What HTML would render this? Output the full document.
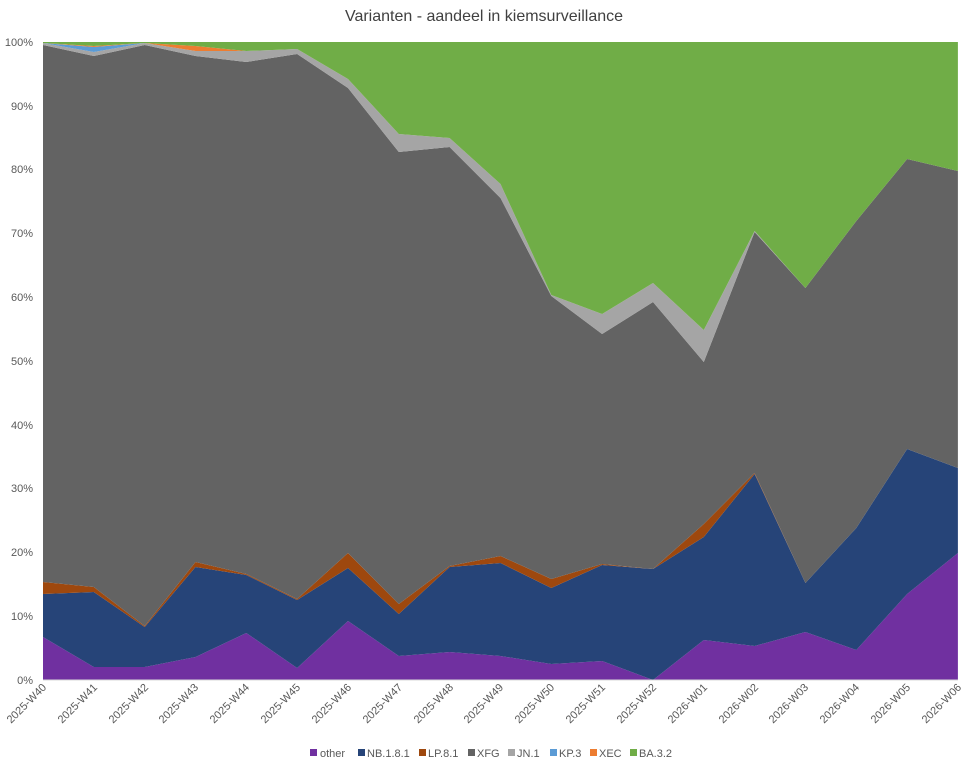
<!DOCTYPE html>
<html><head><meta charset="utf-8"><style>
body{margin:0;background:#fff;font-family:"Liberation Sans",sans-serif}
svg text{font-family:"Liberation Sans",sans-serif;fill:#595959}
</style></head><body>
<svg id="s" width="968" height="765" xmlns="http://www.w3.org/2000/svg">
<rect width="968" height="765" fill="#fff"/>
<text x="484" y="21" font-size="16" text-anchor="middle" style="fill:#404040">Varianten - aandeel in kiemsurveillance</text>
<g id="areas"></g>
<line x1="43" y1="680" x2="958" y2="680" stroke="#d9d9d9"/>
<g font-size="11" text-anchor="end">
<text x="33" y="684">0%</text><text x="33" y="620">10%</text><text x="33" y="556">20%</text><text x="33" y="492">30%</text><text x="33" y="429">40%</text><text x="33" y="365">50%</text><text x="33" y="301">60%</text><text x="33" y="237">70%</text><text x="33" y="173">80%</text><text x="33" y="110">90%</text><text x="33" y="46">100%</text>
</g>
<g id="xl" font-size="11" text-anchor="end"></g>
<g font-size="11">
<rect x="310" y="749" width="7" height="7" fill="#7030a0"/><text x="320" y="757">other</text>
<rect x="358" y="749" width="7" height="7" fill="#264478"/><text x="367" y="757">NB.1.8.1</text>
<rect x="419" y="749" width="7" height="7" fill="#9e480e"/><text x="428" y="757">LP.8.1</text>
<rect x="468" y="749" width="7" height="7" fill="#636363"/><text x="477" y="757">XFG</text>
<rect x="508" y="749" width="7" height="7" fill="#a5a5a5"/><text x="517" y="757">JN.1</text>
<rect x="550" y="749" width="7" height="7" fill="#5b9bd5"/><text x="559" y="757">KP.3</text>
<rect x="590" y="749" width="7" height="7" fill="#ed7d31"/><text x="599" y="757">XEC</text>
<rect x="630" y="749" width="7" height="7" fill="#70ad47"/><text x="639" y="757">BA.3.2</text>
</g>
</svg>
<script>
var X=[];for(var i=0;i<19;i++)X.push(43+i*50.83);
var B=[
[680,680,680,680,680,680,680,680,680,680,680,680,680,680,680,680,680,680,680],
[637,667,667,657,633,668,621,656,652,656,664,661,680,640,646,632,650,594,553],
[594,592,627,567,575,600,568,614,567,563,588,565,569,537,474,583,528,449,468],
[582,587,626,562,574,599,553,604,566,556,579,564,569,524,473,583,528,449,468],
[45,56,45,56,62,54,88,152,147,198,296,334,302,362,232,288,221,159,171],
[43,52,43,51,51,49,79,134,138,184,295,314,283,330,231,288,221,159,171],
[43,47,43,51,51,49,79,134,138,184,295,314,283,330,231,288,221,159,171],
[43,46,43,46,51,49,79,134,138,184,295,314,283,330,231,288,221,159,171],
[42,42,42,42,42,42,42,42,42,42,42,42,42,42,42,42,42,42,42]];
var C=["#7030a0","#264478","#9e480e","#636363","#a5a5a5","#5b9bd5","#ed7d31","#70ad47"];
var g=document.getElementById('areas'),h='';
for(var k=0;k<8;k++){var p=[];for(var i=0;i<19;i++)p.push(X[i].toFixed(1)+','+B[k+1][i]);for(var i=18;i>=0;i--)p.push(X[i].toFixed(1)+','+B[k][i]);h+='<polygon fill="'+C[k]+'" points="'+p.join(' ')+'"/>';}
g.innerHTML=h;
</script>
<svg style="position:absolute;left:0;top:0" width="968" height="765" xmlns="http://www.w3.org/2000/svg">
<g font-size="11" text-anchor="end" fill="#595959" font-family="Liberation Sans, sans-serif">
<text transform="translate(47,688) rotate(-45)">2025-W40</text>
<text transform="translate(98,688) rotate(-45)">2025-W41</text>
<text transform="translate(149,688) rotate(-45)">2025-W42</text>
<text transform="translate(199,688) rotate(-45)">2025-W43</text>
<text transform="translate(250,688) rotate(-45)">2025-W44</text>
<text transform="translate(301,688) rotate(-45)">2025-W45</text>
<text transform="translate(352,688) rotate(-45)">2025-W46</text>
<text transform="translate(403,688) rotate(-45)">2025-W47</text>
<text transform="translate(454,688) rotate(-45)">2025-W48</text>
<text transform="translate(504,688) rotate(-45)">2025-W49</text>
<text transform="translate(555,688) rotate(-45)">2025-W50</text>
<text transform="translate(606,688) rotate(-45)">2025-W51</text>
<text transform="translate(657,688) rotate(-45)">2025-W52</text>
<text transform="translate(708,688) rotate(-45)">2026-W01</text>
<text transform="translate(759,688) rotate(-45)">2026-W02</text>
<text transform="translate(809,688) rotate(-45)">2026-W03</text>
<text transform="translate(860,688) rotate(-45)">2026-W04</text>
<text transform="translate(911,688) rotate(-45)">2026-W05</text>
<text transform="translate(962,688) rotate(-45)">2026-W06</text>
</g></svg>
</body></html>
